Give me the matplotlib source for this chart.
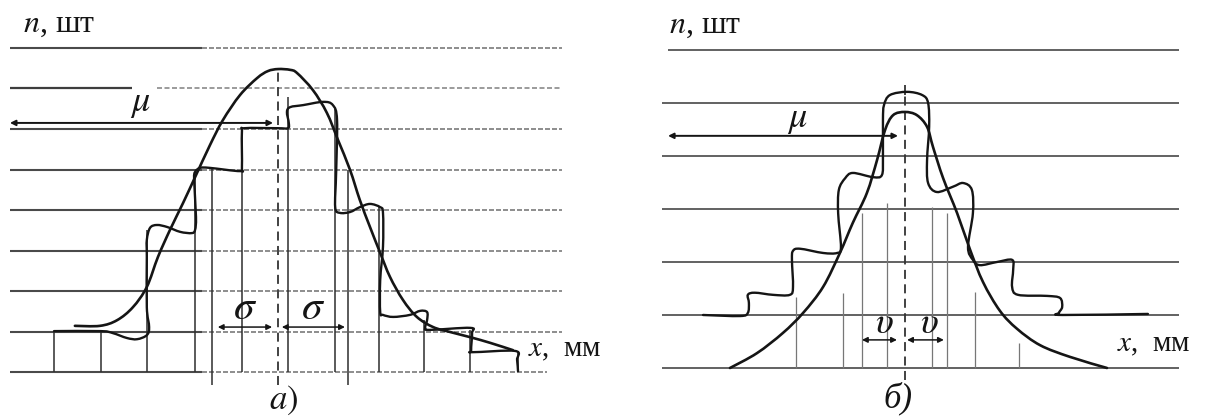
import matplotlib
matplotlib.use('Agg')
import matplotlib.pyplot as plt
from matplotlib.path import Path
from matplotlib.patches import PathPatch

plt.rcParams['font.family'] = ['Liberation Serif', 'DejaVu Serif']
plt.rcParams['mathtext.fontset'] = 'stix'

INK = '#151515'

# ---------------- panel a) : normal distribution ----------------
grid_levels_a = [0, 1, 2, 3, 4, 5, 6, 7, 8]
grid_span_a = (-0.95, 10.95)
grid_fade_a = 3.2          # lines turn lighter / dotted right of this
gap_level_a = 7            # gap in this line around the mu label
gap_span_a = (1.68, 2.22)

bin_edges_a = [0, 1.01, 2.0, 3.04, 4.05, 5.04, 6.06, 7.0, 7.97, 8.97, 10.0]
edge_tops_a = [1.01, 1.01, 3.5, 4.94, 5.93, 6.79, 6.5, 4.07, 1.28, 1.04, 0.52]

# empirical (stepped, wavy) histogram outline
step_x_a = [0, 1.01, 1.27, 1.57, 1.79, 2.0, 2.05, 2.0, 2.0, 2.0, 2.07, 2.22, 2.44,
            2.72, 2.97, 3.04, 3.06, 3.02, 3.04, 3.15, 3.36, 4.01, 4.05, 4.05, 4.11,
            4.81, 5.04, 5.06, 5.02, 5.09, 5.37, 5.80, 6.01, 6.1, 6.08, 6.06, 6.16,
            6.38, 6.59, 6.81, 7.03, 7.09, 7.09, 7.03, 7.03, 7.09, 7.31, 7.67, 7.89,
            8.04, 8.04, 8.0, 8.10, 8.97, 9.01, 8.99, 9.03, 9.94, 9.98, 10.0]
step_n_a = [1.01, 1.01, 0.96, 0.84, 0.81, 0.91, 1.11, 1.6, 2.84, 3.26, 3.56, 3.63, 3.58,
            3.46, 3.43, 3.51, 3.83, 4.74, 4.94, 5.04, 5.04, 4.96, 5.06, 5.93, 6.02,
            6.02, 6.02, 6.15, 6.42, 6.54, 6.59, 6.67, 6.59, 6.22, 4.91, 4.07, 3.93,
            3.95, 4.07, 4.15, 4.07, 3.93, 3.09, 2.27, 1.48, 1.41, 1.36, 1.41, 1.51,
            1.48, 1.28, 1.09, 1.04, 1.09, 0.96, 0.54, 0.49, 0.52, 0.30, 0.02]

# theoretical normal curve
bell_x_a = [0.45, 0.99, 1.36, 1.70, 2.0, 2.24, 2.5, 2.78, 3.04, 3.36, 3.64, 4.01, 4.38,
            4.61, 4.83, 5.09, 5.24, 5.58, 5.88, 6.12, 6.38, 6.59, 6.81, 7.03, 7.24,
            7.52, 7.82, 8.17, 8.53, 8.97, 9.40, 9.89]
bell_n_a = [1.14, 1.14, 1.28, 1.60, 2.10, 2.84, 3.51, 4.17, 4.81, 5.60, 6.22, 6.84, 7.26,
            7.43, 7.48, 7.46, 7.38, 6.96, 6.40, 5.73, 4.99, 4.25, 3.58, 2.94, 2.35,
            1.78, 1.36, 1.11, 0.99, 0.86, 0.72, 0.54]

mu_a = 4.82
mu_top_a = 7.48
sigma_lines_a = [3.41, 6.34]
sigma_tops_a = [5.04, 4.99]
mu_arrow_a = (-0.95, 4.72, 6.15)          # from, to, level
sigma_arrows_a = [(3.53, 4.70), (4.91, 6.27)]
sigma_arrow_level_a = 1.11

# ---------------- panel б) : peaked distribution ----------------
grid_levels_b = [0, 1, 2, 3, 4, 5, 6]
grid_span_b = (-1.94, 12.83)

bell_x_b = [0, 0.77, 1.51, 2.09, 2.66, 3.14, 3.51, 3.91, 4.2, 4.43, 4.66, 5.0, 5.34,
            5.63, 5.8, 6.09, 6.49, 6.86, 7.23, 7.71, 8.2, 8.86, 9.71, 10.77]
bell_n_b = [0, 0.28, 0.66, 1.04, 1.53, 2.17, 2.74, 3.30, 3.92, 4.49, 4.77, 4.83, 4.77,
            4.55, 4.17, 3.58, 2.92, 2.23, 1.62, 1.08, 0.74, 0.43, 0.21, 0]

wave_x_b = [-0.77, 0.29, 0.51, 0.54, 0.51, 0.71, 1.23, 1.71, 1.8, 1.77, 1.8, 2.0, 2.66,
            3.06, 3.17, 3.09, 3.11, 3.29, 3.51, 4.09, 4.34, 4.37, 4.37, 4.4, 4.57,
            5.06, 5.49, 5.66, 5.69, 5.63, 5.66, 5.91, 6.37, 6.66, 6.91, 6.94, 6.8,
            6.94, 7.14, 7.63, 8.06, 8.09, 8.06, 8.23, 9.06, 9.43, 9.49, 9.4, 9.51, 11.94]
wave_n_b = [1.0, 0.98, 1.04, 1.23, 1.38, 1.42, 1.38, 1.38, 1.53, 2.04, 2.21, 2.25, 2.17,
            2.17, 2.28, 2.92, 3.36, 3.58, 3.68, 3.60, 3.64, 3.98, 4.68, 4.96, 5.15,
            5.21, 5.15, 5.0, 4.55, 3.92, 3.49, 3.32, 3.42, 3.49, 3.36, 2.92, 2.28,
            2.04, 1.94, 2.0, 2.04, 1.85, 1.53, 1.38, 1.36, 1.32, 1.15, 1.04, 1.0, 1.02]

edge_x_b = [1.89, 3.23, 3.77, 4.49, 5.77, 6.2, 7.0, 8.26]
edge_tops_b = [1.34, 1.42, 2.92, 3.11, 3.04, 2.92, 1.43, 0.47]

mu_b = 5.0
mu_top_b = 5.34
mu_tick_b = 5.15           # solid stub of the centre line above the bump
mu_arrow_b = (-1.77, 4.8, 4.38)
ups_arrows_b = [(3.77, 4.77), (5.06, 6.11)]
ups_arrow_level_b = 0.53

fig = plt.figure(figsize=(12.05, 4.16), dpi=100)
ax_a = fig.add_axes([0, 0, 600 / 1205, 1])
ax_b = fig.add_axes([600 / 1205, 0, 605 / 1205, 1])
for ax in (ax_a, ax_b):
    ax.set_axis_off()
ax_a.set(xlim=(-1.164, 11.767), ylim=(-1.086, 9.185))
ax_b.set(xlim=(-3.714, 13.571), ylim=(-0.906, 6.943))


def arrow(ax, x0, x1, y, lw=1.1):
    ax.annotate('', xy=(x1, y), xytext=(x0, y),
                arrowprops=dict(arrowstyle='<|-|>', color=INK, lw=lw,
                                mutation_scale=8, shrinkA=0, shrinkB=0))


def smooth(ax, xs, ys, lw):
    # pen-like curve through every read point (cubic bezier, catmull-rom handles)
    pts = list(zip(xs, ys))
    verts = [pts[0]]
    codes = [Path.MOVETO]
    for i in range(len(pts) - 1):
        p0 = pts[max(i - 1, 0)]
        p1 = pts[i]
        p2 = pts[i + 1]
        p3 = pts[min(i + 2, len(pts) - 1)]
        c1 = (p1[0] + (p2[0] - p0[0]) / 6, p1[1] + (p2[1] - p0[1]) / 6)
        c2 = (p2[0] - (p3[0] - p1[0]) / 6, p2[1] - (p3[1] - p1[1]) / 6)
        verts += [c1, c2, p2]
        codes += [Path.CURVE4] * 3
    ax.add_patch(PathPatch(Path(verts, codes), fill=False, edgecolor=INK, lw=lw,
                           capstyle='round', joinstyle='round', zorder=3))


# --- panel a drawing
for lev in grid_levels_a:
    right = 10.63 if lev == 0 else grid_span_a[1]
    if lev == gap_level_a:
        ax_a.hlines(lev, grid_span_a[0], gap_span_a[0], color='#3e3e3e', lw=1.6)
        ax_a.hlines(lev, gap_span_a[1], right, color='#8a8a8a', lw=1.2,
                    linestyles=(0, (3, 1.5)))
    else:
        ax_a.hlines(lev, grid_span_a[0], grid_fade_a, color='#4a4a4a', lw=1.5)
        ax_a.hlines(lev, grid_fade_a, right, color='#7a7a7a', lw=1.2,
                    linestyles=(0, (3, 1.2)))

ax_a.vlines(bin_edges_a, 0, edge_tops_a, color='#2e2e2e', lw=1.1)
ax_a.vlines(sigma_lines_a, -0.32, sigma_tops_a, color='#2e2e2e', lw=1.1)
ax_a.vlines(mu_a, -0.32, mu_top_a, color='#333333', lw=1.3, linestyles=(0, (5, 3)))
smooth(ax_a, bell_x_a, bell_n_a, 1.9)
smooth(ax_a, step_x_a, step_n_a, 1.7)

arrow(ax_a, mu_arrow_a[0], mu_arrow_a[1], mu_arrow_a[2], lw=1.4)
for x0, x1 in sigma_arrows_a:
    arrow(ax_a, x0, x1, sigma_arrow_level_a)

ax_a.text(1.85, 6.62, r'$\mu$', fontsize=26, ha='center', va='center', color=INK)
ax_a.text(4.12, 1.55, r'$\sigma$', fontsize=30, ha='center', va='center', color=INK)
ax_a.text(5.58, 1.55, r'$\sigma$', fontsize=30, ha='center', va='center', color=INK)
ax_a.text(-0.67, 8.57, r'$n$, шт', fontsize=23, ha='left', va='center', color=INK)
ax_a.text(10.22, 0.54, r'$x$,  мм', fontsize=21, ha='left', va='center', color=INK)
ax_a.text(4.94, -0.69, r'$a)$', fontsize=25, ha='center', va='center', color=INK)

# --- panel б drawing
for lev in grid_levels_b:
    left = -1.77 if lev == 6 else grid_span_b[0]
    ax_b.hlines(lev, left, grid_span_b[1], color='#555555', lw=1.3)

ax_b.vlines(edge_x_b, 0, edge_tops_b, color='#777777', lw=0.9)
ax_b.vlines(mu_b, -0.23, mu_tick_b, color='#333333', lw=1.3, linestyles=(0, (5, 3)))
ax_b.vlines(mu_b, mu_tick_b, mu_top_b, color='#333333', lw=1.3)
smooth(ax_b, bell_x_b, bell_n_b, 1.9)
smooth(ax_b, wave_x_b, wave_n_b, 1.7)

arrow(ax_b, mu_arrow_b[0], mu_arrow_b[1], mu_arrow_b[2], lw=1.4)
for x0, x1 in ups_arrows_b:
    arrow(ax_b, x0, x1, ups_arrow_level_b)

ax_b.text(1.91, 4.68, r'$\mu$', fontsize=26, ha='center', va='center', color=INK)
ax_b.text(4.4, 0.83, r'$\upsilon$', fontsize=27, ha='center', va='center', color=INK)
ax_b.text(5.71, 0.83, r'$\upsilon$', fontsize=27, ha='center', va='center', color=INK)
ax_b.text(-1.74, 6.47, r'$n$, шт', fontsize=23, ha='left', va='center', color=INK)
ax_b.text(11.06, 0.43, r'$x$,  мм', fontsize=21, ha='left', va='center', color=INK)
ax_b.text(4.8, -0.57, 'б)', fontsize=25, style='italic', ha='center', va='center', color=INK)

fig.savefig('out.png', dpi=100)
